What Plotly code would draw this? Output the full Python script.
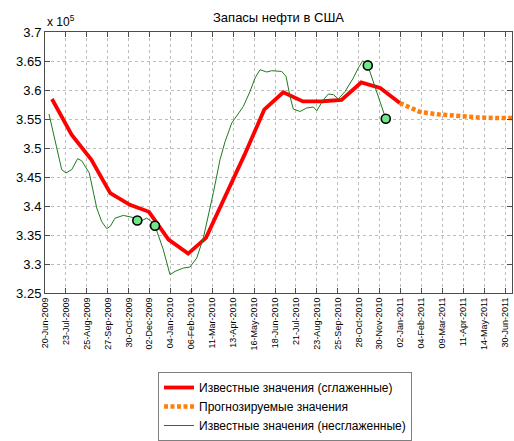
import pandas as pd
import plotly.graph_objects as go

# ---------------- data ----------------
title_text = "Запасы нефти в США"
start_date = "2009-06-20"

# x tick labels (every 33 days from 20-Jun-2009; last label as in the original)
tick_labels = ["20-Jun-2009", "23-Jul-2009", "25-Aug-2009", "27-Sep-2009", "30-Oct-2009",
               "02-Dec-2009", "04-Jan-2010", "06-Feb-2010", "11-Mar-2010", "13-Apr-2010",
               "16-May-2010", "18-Jun-2010", "21-Jul-2010", "23-Aug-2010", "25-Sep-2010",
               "28-Oct-2010", "30-Nov-2010", "02-Jan-2011", "04-Feb-2011", "09-Mar-2011",
               "11-Apr-2011", "14-May-2011", "30-Jun-2011"]
tick_step_days = 33

y_ticks = [3.25, 3.3, 3.35, 3.4, 3.45, 3.5, 3.55, 3.6, 3.65, 3.7]
y_tick_labels = ["3.25", "3.3", "3.35", "3.4", "3.45", "3.5", "3.55", "3.6", "3.65", "3.7"]

# known values, smoothed (monthly), units of 1e5
smooth_dates = ["2009-07-01", "2009-08-01", "2009-09-01", "2009-10-01", "2009-11-01",
                "2009-12-01", "2010-01-01", "2010-02-01", "2010-03-01", "2010-04-01",
                "2010-05-01", "2010-06-01", "2010-07-01", "2010-08-01", "2010-09-01",
                "2010-10-01", "2010-11-01", "2010-12-01", "2011-01-01"]
smooth_values = [3.5845, 3.523, 3.480, 3.422, 3.402, 3.390, 3.342, 3.318, 3.345, 3.416,
                 3.4885, 3.566, 3.596, 3.5804, 3.5806, 3.583, 3.613, 3.6034, 3.5776]

# forecast values
forecast_dates = ["2011-01-01", "2011-02-01", "2011-03-01", "2011-04-01", "2011-05-01",
                  "2011-06-01", "2011-07-01"]
forecast_values = [3.5776, 3.5625, 3.558, 3.5547, 3.5530, 3.5517, 3.5515]

# known values, unsmoothed (days since start_date), units of 1e5
raw_days = [6.3, 15.8, 26.4, 33.1, 42.1, 51.6, 57.9, 69.9, 81.6, 89.5, 97.4, 103.0,
            110.5, 123.6, 139.4, 145.7, 152.6, 160.5, 166.5, 173.6, 186.7, 197.3, 205.2,
            218.3, 228.9, 239.5, 249.9, 265.7, 276.2, 284.1, 294.7, 313.0, 323.6, 331.5,
            339.4, 350.0, 357.8, 373.6, 380.4, 386.7, 391.9, 402.5, 413.1, 423.5, 428.9,
            439.3, 447.2, 455.1, 463.0, 473.6, 486.6, 494.5, 501.5, 509.4, 520.9, 531.5,
            537.8]
raw_values = [3.5586, 3.5109, 3.4626, 3.457, 3.4626, 3.4816, 3.478, 3.457, 3.3966, 3.373,
              3.361, 3.365, 3.379, 3.3838, 3.380, 3.375, 3.3747, 3.379, 3.3747, 3.366,
              3.3247, 3.2816, 3.2873, 3.293, 3.2948, 3.3104, 3.345, 3.423, 3.4798, 3.5107,
              3.543, 3.5717, 3.5976, 3.6207, 3.635, 3.631, 3.6333, 3.632, 3.6234, 3.589,
              3.5672, 3.563, 3.569, 3.5707, 3.5643, 3.5833, 3.593, 3.592, 3.5845, 3.5976,
              3.6207, 3.638, 3.6505, 3.6424, 3.606, 3.572, 3.5505]

# highlighted points (days since start_date), units of 1e5
marker_days = [145.7, 173.6, 509.4, 537.8]
marker_values = [3.375, 3.366, 3.6424, 3.5505]

legend_names = ["Известные значения (сглаженные)",
                "Прогнозируемые значения",
                "Известные значения (несглаженные)"]

x_end_days = 737

# ---------------- figure ----------------
t0 = pd.Timestamp(start_date)
raw_x = t0 + pd.to_timedelta(raw_days, unit="D")
marker_x = t0 + pd.to_timedelta(marker_days, unit="D")
tick_x = [t0 + pd.Timedelta(days=tick_step_days * i) for i in range(len(tick_labels))]
x_end = t0 + pd.Timedelta(days=x_end_days)

FONT = "Liberation Sans, Arial, sans-serif"
W, H = 514, 441
ML, MR, MT, MB = 45, 2, 32, 148
PW, PH = W - ML - MR, H - MT - MB

fig = go.Figure()
fig.add_trace(go.Scatter(x=pd.to_datetime(smooth_dates), y=smooth_values, mode="lines",
                         name=legend_names[0], line=dict(color="#FF0000", width=3.8)))
fig.add_trace(go.Scatter(x=pd.to_datetime(forecast_dates), y=forecast_values, mode="lines",
                         name=legend_names[1],
                         line=dict(color="#FF7F0A", width=4.5, dash="4px,2.5px")))
fig.add_trace(go.Scatter(x=raw_x, y=raw_values, mode="lines", name=legend_names[2],
                         line=dict(color="#1F7A1F", width=1)))
fig.add_trace(go.Scatter(x=marker_x, y=marker_values, mode="markers", showlegend=False,
                         marker=dict(size=9, color="#6EE98A",
                                     line=dict(color="#000000", width=1.6))))

axis_common = dict(showline=True, linecolor="#4d4d4d", linewidth=1, mirror="allticks",
                   ticks="inside", ticklen=5, tickcolor="#4d4d4d",
                   showgrid=True, gridcolor="#bdbdbd", gridwidth=1, griddash="dot",
                   zeroline=False)

fig.update_xaxes(type="date", range=[t0, x_end], tickvals=tick_x, ticktext=tick_labels,
                 tickangle=-90, tickfont=dict(family=FONT, size=9, color="#000"),
                 automargin=False, **axis_common)
fig.update_yaxes(range=[3.25, 3.7], tickvals=y_ticks, ticktext=y_tick_labels,
                 tickfont=dict(family=FONT, size=13, color="#000"),
                 automargin=False, **axis_common)

fig.update_layout(
    width=W, height=H,
    margin=dict(l=ML, r=MR, t=MT, b=MB, autoexpand=False),
    paper_bgcolor="white", plot_bgcolor="white",
    font=dict(family=FONT, color="#000"),
    title=dict(text=title_text, x=0.5, xref="paper", xanchor="center",
               y=1 - 17 / H, yref="container", yanchor="middle",
               font=dict(family=FONT, size=13, color="#000")),
    legend=dict(xref="paper", yref="paper", x=(158 - ML) / PW, y=(H - MB - 372) / PH,
                xanchor="left", yanchor="top", bgcolor="white",
                bordercolor="#7f7f7f", borderwidth=1,
                font=dict(family=FONT, size=12, color="#000"),
                itemwidth=30, tracegroupgap=0),
    annotations=[dict(text="x 10<sup>5</sup>", xref="paper", yref="paper", x=0, y=1,
                      xanchor="left", yanchor="bottom", showarrow=False, yshift=1,
                      font=dict(family=FONT, size=12, color="#000"))],
    showlegend=True,
)

fig.write_html("out.html",
               config={"displayModeBar": False},
               post_script="document.body.style.margin='0';document.body.style.padding='0';")
